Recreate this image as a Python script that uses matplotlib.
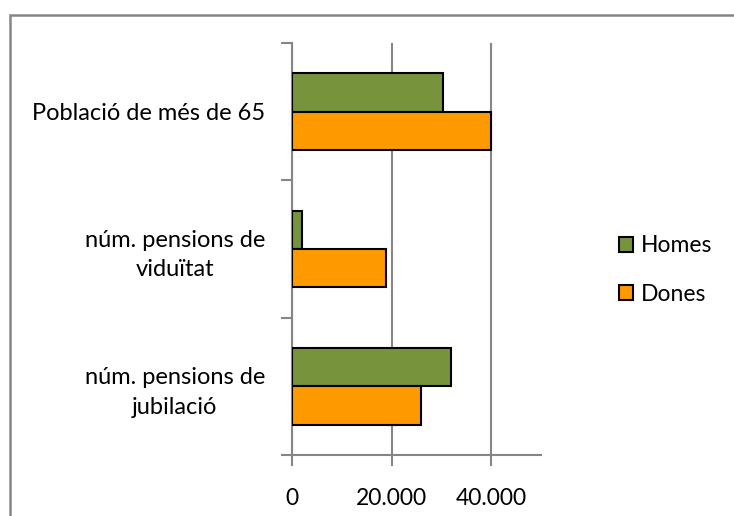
import matplotlib
matplotlib.use("Agg")
import matplotlib.pyplot as plt
from matplotlib.patches import Rectangle, Patch
import numpy as np

categories = ["Població de més de 65", "núm. pensions de\nviduïtat", "núm. pensions de\njubilació"]
homes = [30400, 2000, 32000]
dones = [40000, 18800, 26000]
xticks = [0, 20000, 40000]
xticklabels = ["0", "20.000", "40.000"]

plt.rcParams['font.family'] = ['Lato', 'DejaVu Sans']
W, H = 734, 516
fig = plt.figure(figsize=(W/100, H/100), dpi=100)
fig.patch.set_facecolor('white')

# outer chart border
fig.add_artist(Rectangle((9.5/W, -0.1), 1.2, 1.1 - 14.5/H, transform=fig.transFigure,
                         fill=False, edgecolor='#868686', linewidth=1.8))

ax = fig.add_axes([292/W, 1-455/H, (541-292)/W, (455-43)/H])
y = np.arange(len(categories))[::-1].astype(float)
h = 0.28
gray = '#868686'
ax.barh(y + h/2, homes, height=h, color='#77933C', edgecolor='black', linewidth=1.5, label='Homes', zorder=3)
ax.barh(y - h/2, dones, height=h, color='#FF9900', edgecolor='black', linewidth=1.5, label='Dones', zorder=3)

ax.set_xlim(0, 50000)
ax.set_ylim(-0.5, 2.5)
ax.set_xticks(xticks)
ax.set_xticklabels(xticklabels, fontsize=16.5)
ax.set_yticks([-0.5, 0.5, 1.5, 2.5])
ax.set_yticklabels([])
ax.set_yticks(y, minor=True)
ax.set_yticklabels(categories, minor=True, fontsize=17, ha='right', multialignment='center',
                   linespacing=1.5)
ax.tick_params(axis='y', which='minor', length=0, pad=19.5)
ax.tick_params(axis='y', which='major', length=8, width=1.5, color=gray, direction='out')
ax.tick_params(axis='x', length=8, width=1.5, color=gray, direction='out', pad=16)
ax.grid(axis='x', color=gray, linewidth=1.5, zorder=0)
for s in ['top', 'right']:
    ax.spines[s].set_visible(False)
for s in ['left', 'bottom']:
    ax.spines[s].set_color(gray)
    ax.spines[s].set_linewidth(1.5)

leg = ax.legend(handles=[Patch(facecolor='#77933C', edgecolor='black', linewidth=1.5, label='Homes'),
                         Patch(facecolor='#FF9900', edgecolor='black', linewidth=1.5, label='Dones')],
                loc='center left', bbox_to_anchor=(598/W, 1-270/H), bbox_transform=fig.transFigure,
                frameon=False, fontsize=16.5, handlelength=0.62, handleheight=0.62, handletextpad=0.35,
                labelspacing=1.2)

fig.savefig('out.png', dpi=100)
